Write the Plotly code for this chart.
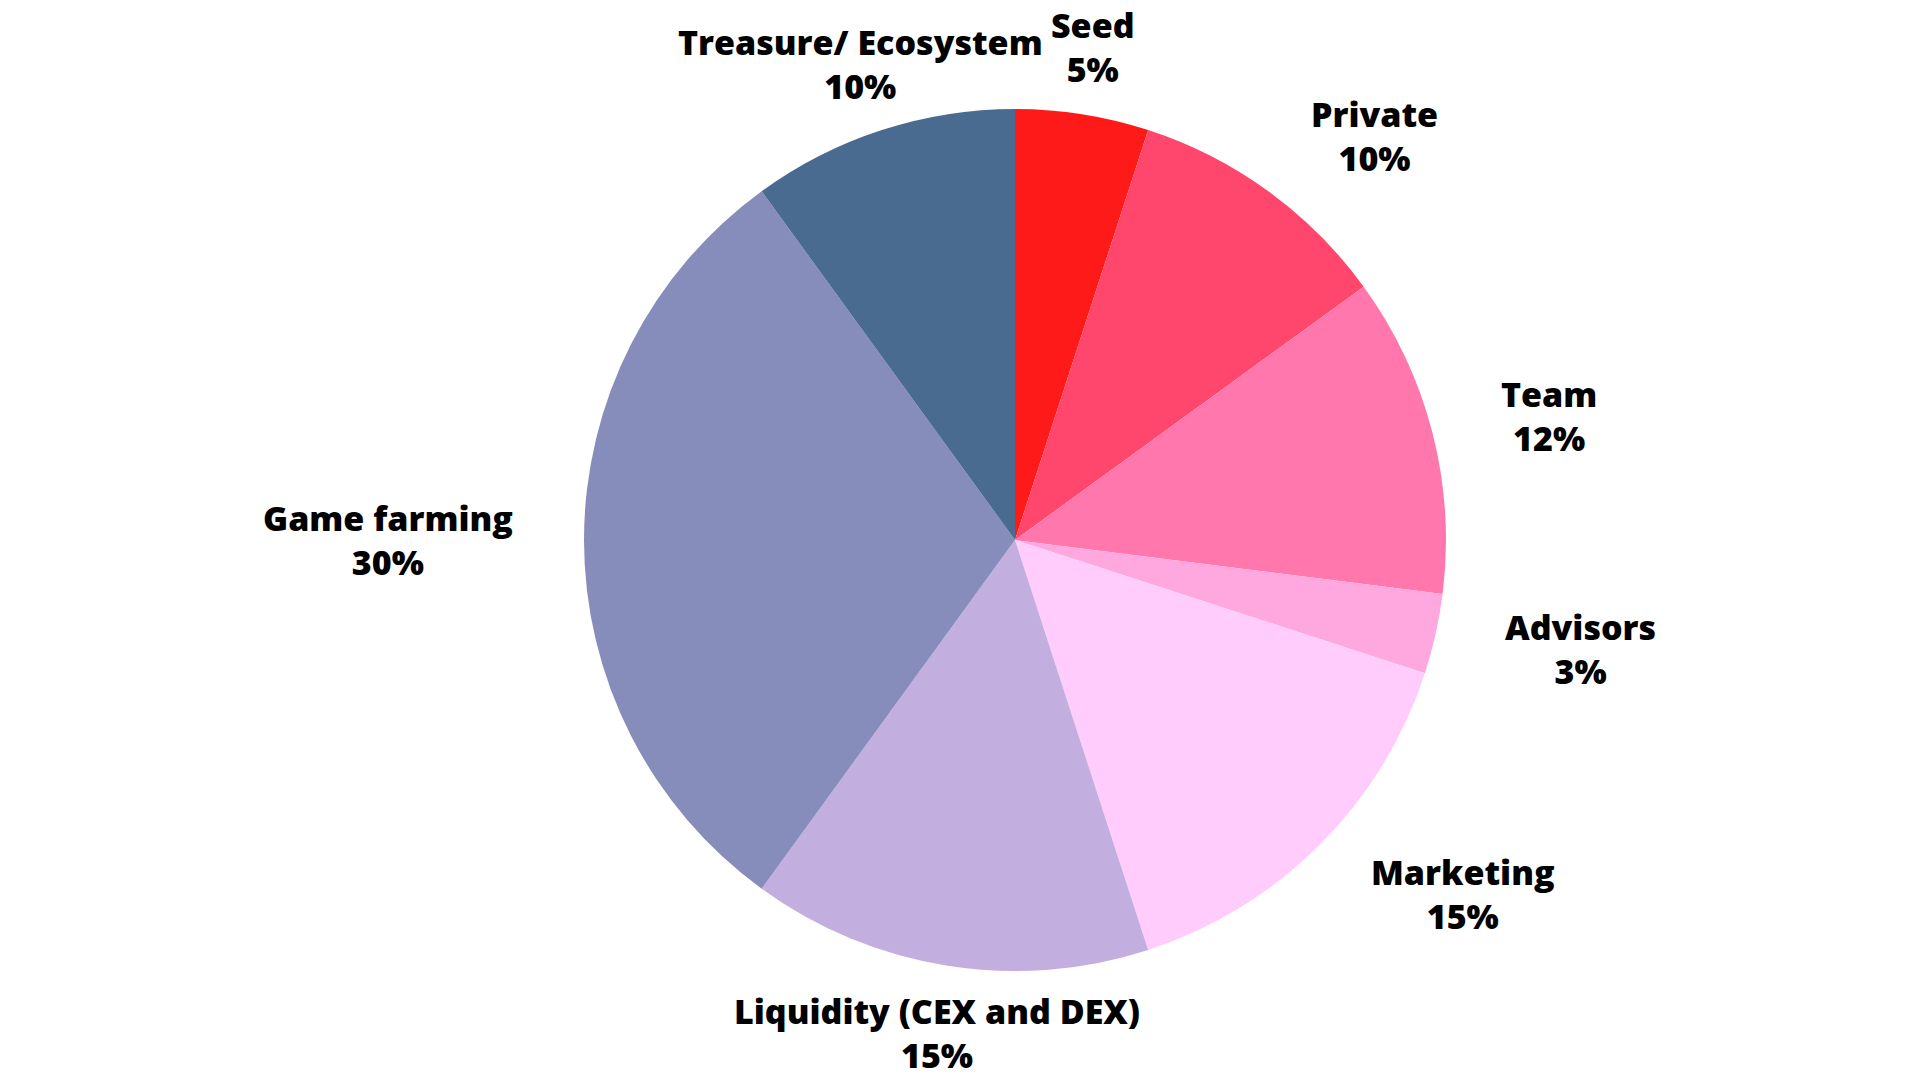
import math
import plotly.graph_objects as go

labels = ["Seed", "Private", "Team", "Advisors", "Marketing",
          "Liquidity (CEX and DEX)", "Game farming", "Treasure/ Ecosystem"]
values = [5, 10, 12, 3, 15, 15, 30, 10]
colors = ["#FF1A1A", "#FF466C", "#FF77AD", "#FFA8E0", "#FFCCFB",
          "#C3AEE0", "#868DBA", "#4A6B90"]

W, H = 1920, 1080
cx, cy, R = 1007, 532, 431  # pixel centre and radius of the pie

fig = go.Figure(go.Pie(
    labels=labels, values=values, sort=False, direction="clockwise", rotation=0,
    marker=dict(colors=colors, line=dict(width=0)),
    textinfo="none", hoverinfo="label+percent", showlegend=False,
    domain=dict(x=[(cx - R) / W, (cx + R) / W], y=[1 - (cy + R) / H, 1 - (cy - R) / H]),
))

total = sum(values)
cum = 0
annotations = []
for lab, v in zip(labels, values):
    mid = (cum + v / 2) / total * 2 * math.pi
    cum += v
    s, c = math.sin(mid), math.cos(mid)
    dx = R * 1.16
    if abs(c) > 0.9:
        dy = R * 1.047
        xa, ya = "center", ("bottom" if c > 0 else "top")
    else:
        dy = R * 1.16
        xa, ya = ("left" if s > 0 else "right"), "middle"
    annotations.append(dict(
        x=(cx + dx * s) / W, y=1 - (cy - dy * c) / H, xref="paper", yref="paper",
        text=f"{lab}<br>{v}%", showarrow=False, xanchor=xa, yanchor=ya, align="center",
        font=dict(family="Open Sans", size=34, color="#000000", weight=800),
    ))

fig.update_layout(
    width=W, height=H, margin=dict(l=0, r=0, t=0, b=0),
    paper_bgcolor="#FFFFFF", plot_bgcolor="#FFFFFF",
    annotations=annotations,
)
fig.write_html("out.html")
